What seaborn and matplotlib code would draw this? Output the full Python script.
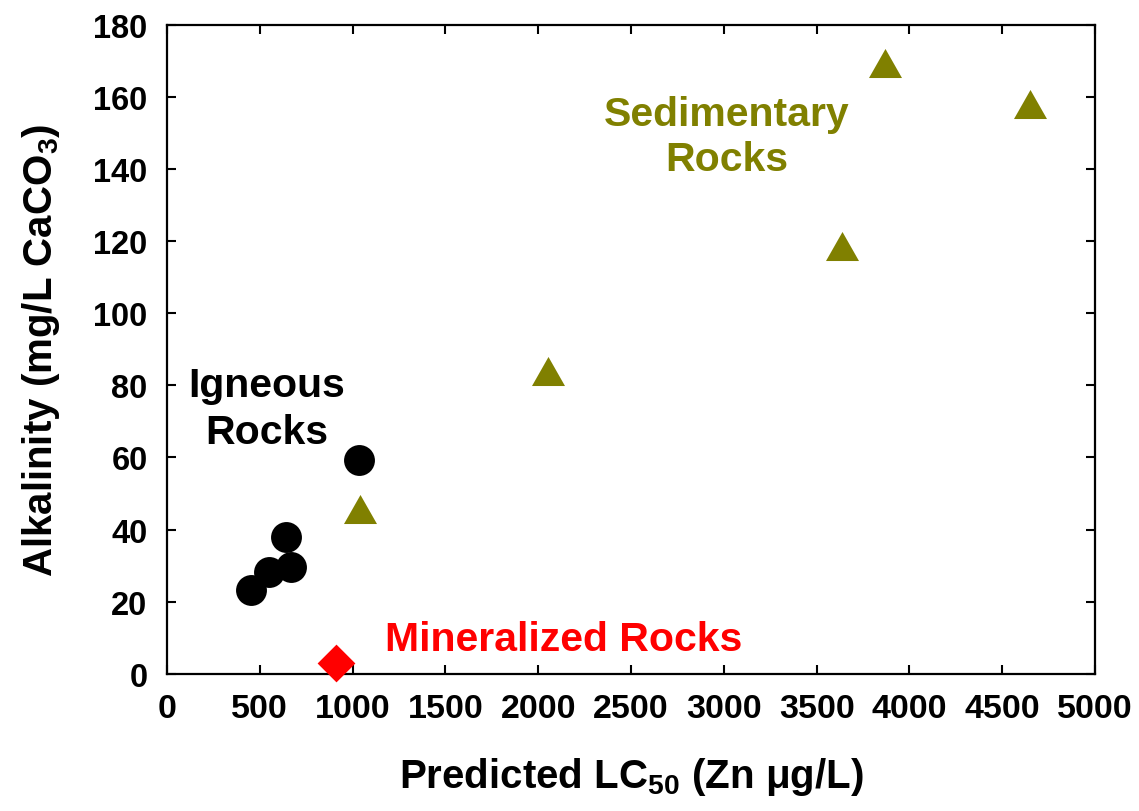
import numpy as np
import pandas as pd
import matplotlib
matplotlib.use("Agg")
import matplotlib.pyplot as plt
from matplotlib.path import Path
import seaborn as sns

# ---- data ----
igneous_x = [454, 547, 641, 668, 1032]
igneous_y = [23.2, 28.1, 38.0, 29.7, 59.3]
sedimentary_x = [1041, 2053, 3635, 3870, 4652]
sedimentary_y = [45.6, 84.1, 118.6, 169.5, 158.0]
mineralized_x = [912]
mineralized_y = [3.1]
x_ticks = [0, 500, 1000, 1500, 2000, 2500, 3000, 3500, 4000, 4500, 5000]
y_ticks = [0, 20, 40, 60, 80, 100, 120, 140, 160, 180]

sns.set_theme(style="ticks")
plt.rcParams['font.family'] = ['Liberation Sans', 'DejaVu Sans']
plt.rcParams['font.weight'] = 'bold'
plt.rcParams['text.color'] = 'black'
plt.rcParams['axes.labelcolor'] = 'black'
plt.rcParams['mathtext.fontset'] = 'custom'
plt.rcParams['mathtext.rm'] = 'Liberation Sans:bold'
plt.rcParams['mathtext.bf'] = 'Liberation Sans:bold'
plt.rcParams['mathtext.it'] = 'Liberation Sans:bold'
plt.rcParams['mathtext.default'] = 'bf'

fig = plt.figure(figsize=(11.39, 8.12), dpi=100)
ax = fig.add_axes([167 / 1139, 1 - 674.8 / 812, (1095 - 167) / 1139, (674.8 - 25.7) / 812])

df_ig = pd.DataFrame({"x": igneous_x, "y": igneous_y})
df_sed = pd.DataFrame({"x": sedimentary_x, "y": sedimentary_y})
df_min = pd.DataFrame({"x": mineralized_x, "y": mineralized_y})

tri = Path([(-1, -0.88), (1, -0.88), (0, 0.88), (-1, -0.88)],
           [Path.MOVETO, Path.LINETO, Path.LINETO, Path.CLOSEPOLY])

sns.scatterplot(data=df_ig, x="x", y="y", ax=ax, marker="o", s=495,
                color="black", linewidth=0, clip_on=False, zorder=3)
sns.scatterplot(data=df_sed, x="x", y="y", ax=ax, marker=tri, s=565,
                color="#808000", linewidth=0, clip_on=False, zorder=3)
sns.scatterplot(data=df_min, x="x", y="y", ax=ax, marker="D", s=370,
                color="#FF0000", linewidth=0, clip_on=False, zorder=3)

ax.set_xlim(0, 5000)
ax.set_ylim(0, 180)
ax.set_xticks(x_ticks)
ax.set_yticks(y_ticks)
ax.set_xticklabels([str(t) for t in x_ticks], fontsize=24.5, fontweight='bold')
ax.set_yticklabels([str(t) for t in y_ticks], fontsize=23.5, fontweight='bold')
ax.tick_params(direction='in', length=6.5, width=1.5, top=True, right=True,
               colors='black', pad=14)
for sp in ax.spines.values():
    sp.set_visible(True)
    sp.set_linewidth(1.6)
    sp.set_color('black')

ax.set_xlabel(r'Predicted LC$_{50}$ (Zn μg/L)', fontsize=29, fontweight='bold', color='black')
ax.set_ylabel(r'Alkalinity (mg/L CaCO$_{3}$)', fontsize=29, fontweight='bold', color='black')
ax.xaxis.set_label_coords(0.5, -0.125)
ax.yaxis.set_label_coords(-0.113, 0.5)

ax.text(535, 73.5, "Igneous\nRocks", ha='center', va='center', fontsize=29.5,
        fontweight='bold', color='black', linespacing=1.3)
ax.text(3015, 149.0, "Sedimentary\nRocks", ha='center', va='center', fontsize=29.5,
        fontweight='bold', color='#808000', linespacing=1.25)
ax.text(2136, 9.6, "Mineralized Rocks", ha='center', va='center', fontsize=29.5,
        fontweight='bold', color='#FF0000')

fig.savefig("out.png", dpi=100, facecolor='white')
